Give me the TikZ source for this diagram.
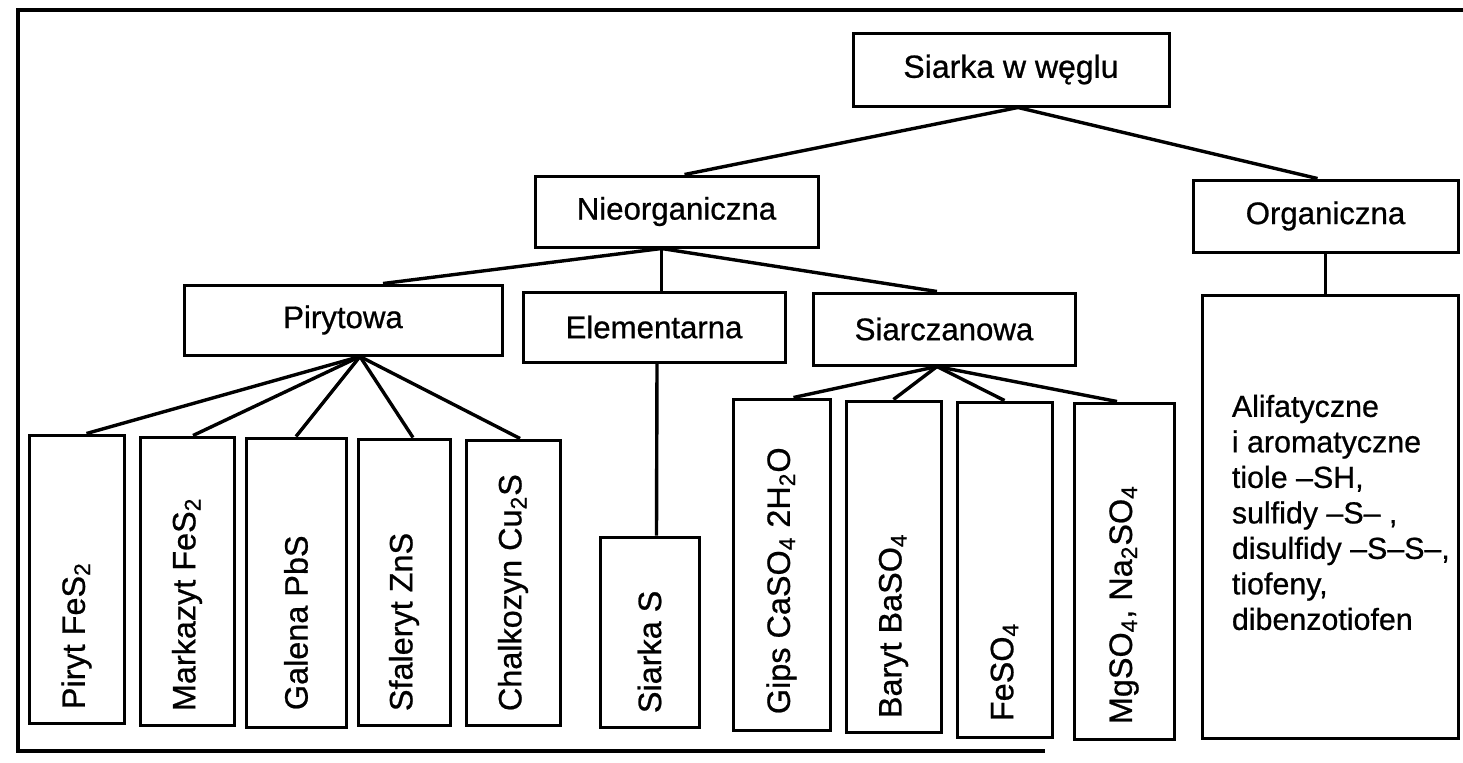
\documentclass[tikz,border=0pt]{standalone}
\usepackage{fontspec}
\setmainfont{Liberation Sans}[FakeBold=0.7]
\usetikzlibrary{calc}

\tikzset{
  box/.style={draw, line width=1.5pt, inner sep=0pt, fill=white},
  label/.style={font=\fontsize{15.6}{18}\selectfont, inner sep=0pt},
  vtext/.style={inner sep=0pt, font=\fontsize{16.2}{19}\selectfont, rotate=90, anchor=west},
  link/.style={line width=1.7pt},
  thinlink/.style={line width=1.1pt},
  frame/.style={line width=2.3pt}
}

\begin{document}
\begin{tikzpicture}[x=0.5pt, y=-0.5pt]
\useasboundingbox (0,0) rectangle (1463,762);

% outer frame, open on the right
\coordinate (ftr) at (1463,10);
\coordinate (ftl) at (18,10);
\coordinate (fbl) at (18,751);
\coordinate (fbr) at (1045,751);
\draw[frame] (ftr) -- (ftl) -- (fbl) -- (fbr);

% level 0
\node[box, minimum width=158pt, minimum height=36.5pt] (top) at (1011,69.5)
  {\fontsize{16}{19}\selectfont Siarka w węglu};

% level 1
\node[box, label, minimum width=141.5pt, minimum height=35.5pt] (nieorg) at (676.5,211.5) {Nieorganiczna};
\node[box, label, minimum width=132.5pt, minimum height=36pt] (org) at (1325.5,216) {Organiczna};

% level 2
\node[box, label, minimum width=159pt, minimum height=35pt] (piryt) at (343,320) {Pirytowa};
\node[box, label, minimum width=131pt, minimum height=35pt] (elem) at (654,327) {Elementarna};
\node[box, label, minimum width=131pt, minimum height=36pt] (siarcz) at (944,329) {Siarczanowa};

% organic sulfur box
\node[box, minimum width=128pt, minimum height=221.5pt] (big) at (1330,516.5) {};
\node[label, align=left, anchor=west, font=\fontsize{15.2}{17.75}\selectfont] (bigtext)
  at ($(big.west)+(31,-4)$)
  {Alifatyczne\\i aromatyczne\\tiole –SH,\\sulfidy –S– ,\\disulfidy –S–S–,\\tiofeny,\\dibenzotiofen};

% pyrite group
\node[box, minimum width=47.5pt, minimum height=144pt] (p1) at (76.5,579) {};
\node[box, minimum width=47pt,   minimum height=144pt] (p2) at (187,581) {};
\node[box, minimum width=50pt,   minimum height=144.5pt] (p3) at (296,582.5) {};
\node[box, minimum width=46pt,   minimum height=143pt] (p4) at (404,582) {};
\node[box, minimum width=47pt,   minimum height=142.5pt] (p5) at (513,582.5) {};

% elemental sulfur
\node[box, minimum width=49.5pt, minimum height=95pt] (es) at (649.5,632) {};

% sulfate group
\node[box, minimum width=48.5pt, minimum height=165.5pt] (g1) at (781.5,564.5) {};
\node[box, minimum width=47.5pt, minimum height=165.5pt] (g2) at (893.5,566.5) {};
\node[box, minimum width=47.5pt, minimum height=167.5pt] (g3) at (1004.5,569.5) {};
\node[box, minimum width=50pt,   minimum height=168pt] (g4) at (1124,571) {};

% rotated labels
\node[vtext] (t1) at ($(p1.south)+(0,-15)$) {Piryt FeS\textsubscript{2}};
\node[vtext] (t2) at ($(p2.south)+(0,-15)$) {Markazyt FeS\textsubscript{2}};
\node[vtext] (t3) at ($(p3.south)+(0,-18)$) {Galena PbS};
\node[vtext] (t4) at ($(p4.south)+(0,-15)$) {Sfaleryt ZnS};
\node[vtext] (t5) at ($(p5.south)+(0,-15)$) {Chalkozyn Cu\textsubscript{2}S};
\node[vtext] (tes) at ($(es.south)+(0,-15)$) {Siarka S};
\node[vtext] (tg1) at ($(g1.south)+(0,-17)$) {Gips CaSO\textsubscript{4} 2H\textsubscript{2}O};
\node[vtext] (tg2) at ($(g2.south)+(0,-15)$) {Baryt BaSO\textsubscript{4}};
\node[vtext] (tg3) at ($(g3.south)+(0,-17)$) {FeSO\textsubscript{4}};
\node[vtext] (tg4) at ($(g4.south)+(0,-16)$) {MgSO\textsubscript{4}, Na\textsubscript{2}SO\textsubscript{4}};

% branching points
\coordinate (hubT) at ($(top.south)+(7,0)$);
\coordinate (hubN) at ($(nieorg.south)+(-15,0)$);
\coordinate (hubP) at ($(piryt.south)+(17,0)$);
\coordinate (hubS) at ($(siarcz.south)+(-7,0)$);

% connectors
\draw[link] (hubT) -- ($(nieorg.north)+(8,0)$);
\draw[link] (hubT) -- ($(org.north)+(-8,0)$);
\draw[thinlink] (org.south) -- (org.south |- big.north);

\draw[link] (hubN) -- ($(piryt.north)+(40,0)$);
\draw[link] (hubN) -- (hubN |- elem.north);
\draw[link] (hubN) -- ($(siarcz.north)+(-7,0)$);

\draw[link] (hubP) -- ($(p1.north)+(10,0)$);
\draw[link] (hubP) -- ($(p2.north)+(6,0)$);
\draw[link] (hubP) -- (p3.north);
\draw[link] (hubP) -- ($(p4.north)+(9,0)$);
\draw[link] (hubP) -- ($(p5.north)+(7,0)$);

\draw[link] ($(elem.south)+(3,0)$) -- ($(es.north)+(7,0)$);

\draw[link] (hubS) -- ($(g1.north)+(12,0)$);
\draw[link] (hubS) -- (g2.north);
\draw[link] (hubS) -- (g3.north);
\draw[link] (hubS) -- ($(g4.north)+(-7,0)$);
\end{tikzpicture}
\end{document}
